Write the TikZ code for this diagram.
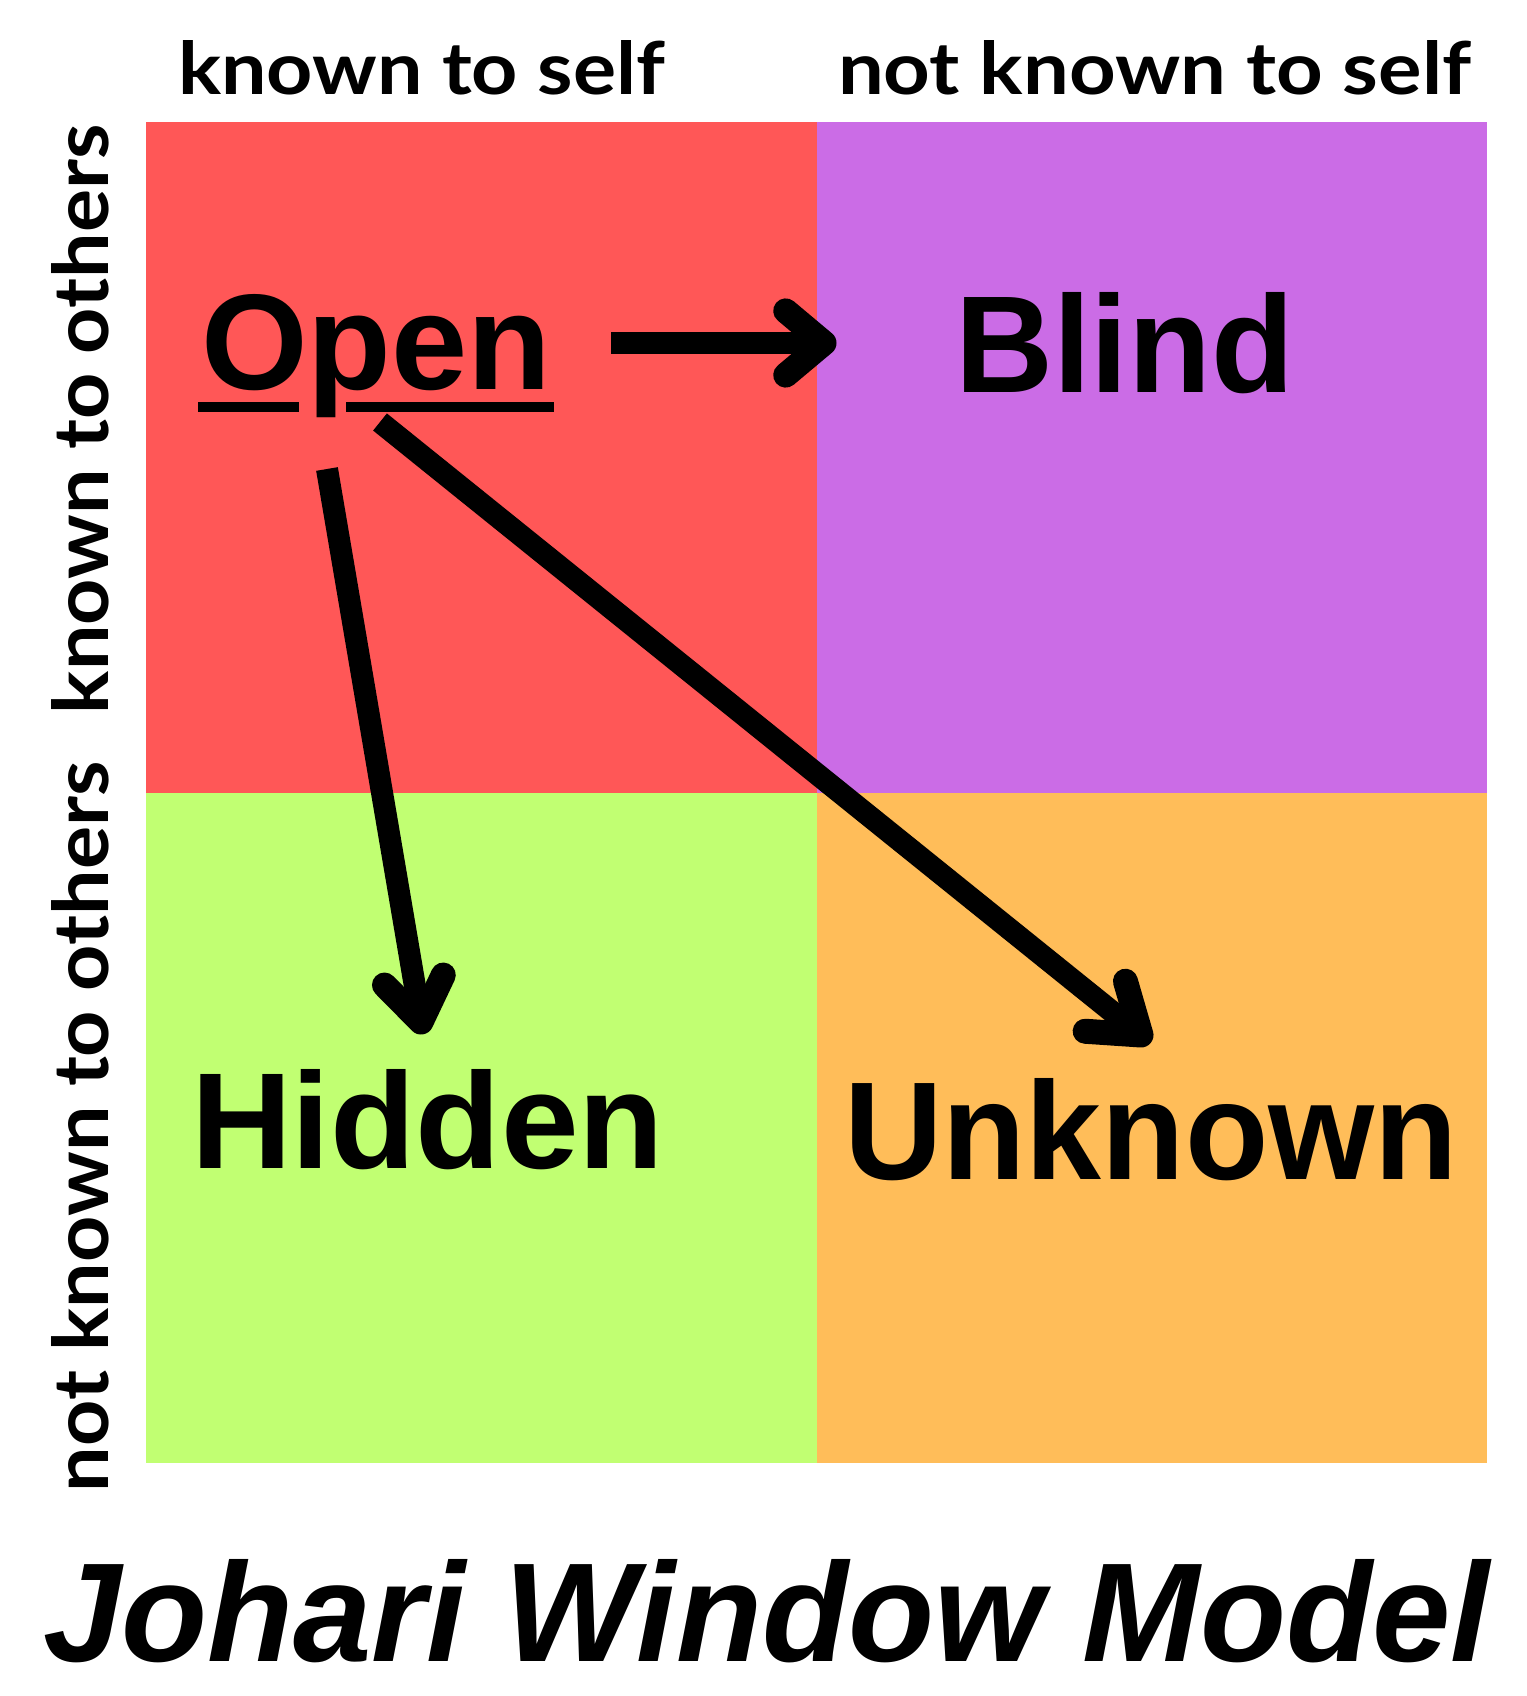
\documentclass[tikz,border=0pt]{standalone}
\usepackage{fontspec}
\setmainfont{Liberation Sans}
\newfontfamily\axisfont{Lato}
\usetikzlibrary{calc}
\definecolor{qred}{HTML}{FF5757}
\definecolor{qpurple}{HTML}{CB6CE6}
\definecolor{qgreen}{HTML}{C1FF72}
\definecolor{qorange}{HTML}{FFBD59}
\newcommand{\fitbox}[3]{\resizebox{#1pt}{#2pt}{#3}}
\begin{document}
\begin{tikzpicture}[x=1pt,y=-1pt,
  lbl/.style={inner sep=0pt, outer sep=0pt, anchor=base west},
  shaft/.style={line width=22pt, black},
  head/.style={line width=25pt, black, line cap=round, line join=round},
  uline/.style={line width=10pt, black}]
\useasboundingbox (0,0) rectangle (1526,1696);
\fill[white] (0,0) rectangle (1526,1696);
% quadrants
\fill[qred]    (146,122) rectangle (817,793);
\fill[qpurple] (817,122) rectangle (1487,793);
\fill[qgreen]  (146,793) rectangle (817,1463);
\fill[qorange] (817,793) rectangle (1487,1463);
% axis labels
\node[lbl] (topA) at (178,95) {\fitbox{487}{54}{\axisfont\bfseries known to self}};
\node[lbl] (topB) at (838,95) {\fitbox{633}{54}{\axisfont\bfseries not known to self}};
\node[lbl, rotate=90] (leftA) at (108,714) {\fitbox{589}{57}{\axisfont\bfseries known to others}};
\node[lbl, rotate=90] (leftB) at (108,1492) {\fitbox{730}{57}{\axisfont\bfseries not known to others}};
% quadrant labels
\node[lbl] (open) at (201,389) {\fitbox{350}{95}{\bfseries Open}};
\node[lbl] (blind) at (955,392) {\fitbox{339}{100}{\bfseries Blind}};
\node[lbl] (hidden) at (191,1168) {\fitbox{473}{99}{\bfseries Hidden}};
\node[lbl] (unknown) at (844,1179) {\fitbox{613}{101}{\bfseries Unknown}};
% underline of Open
\draw[uline] (198,407) -- (299,407);
\draw[uline] (346,407) -- (554,407);
% title
\node[lbl] (title) at (43,1661) {\fitbox{1446}{102}{\bfseries\itshape Johari Window Model}};
% arrows
\coordinate (a1s) at (611,343);
\coordinate (a1t) at (824,343);
\draw[shaft] (a1s) -- (a1t);
\draw[head] ($(a1t)!50pt!40:(a1s)$) -- (a1t) -- ($(a1t)!50pt!-40:(a1s)$);
\coordinate (a2s) at (327,469);
\coordinate (a2t) at (421,1022);
\draw[shaft] (a2s) -- (a2t);
\draw[head] ($(a2t)!52pt!35:(a2s)$) -- (a2t) -- ($(a2t)!52pt!-35:(a2s)$);
\coordinate (a3s) at (380,422);
\coordinate (a3t) at (1141,1035);
\draw[shaft] (a3s) -- (a3t);
\draw[head] ($(a3t)!56pt!35:(a3s)$) -- (a3t) -- ($(a3t)!56pt!-35:(a3s)$);
\end{tikzpicture}
\end{document}
